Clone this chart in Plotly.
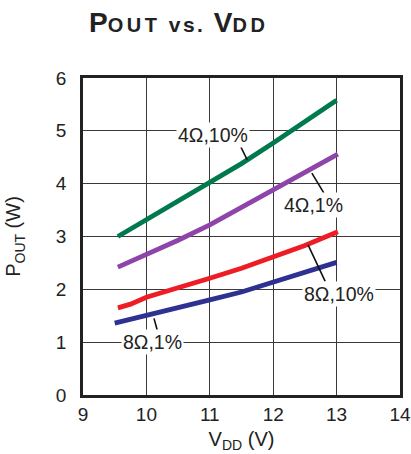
import plotly.graph_objects as go

# Data
x_4r10 = [9.55, 10.0, 10.5, 11.0, 11.5, 12.0, 12.5, 13.0]
y_4r10 = [3.00, 3.32, 3.66, 4.02, 4.38, 4.77, 5.17, 5.58]

x_4r1 = [9.55, 10.0, 10.5, 11.0, 11.5, 12.0, 12.5, 13.02]
y_4r1 = [2.42, 2.66, 2.93, 3.22, 3.55, 3.87, 4.20, 4.56]

x_8r10 = [9.55, 9.75, 10.0, 10.5, 11.0, 11.5, 12.0, 12.5, 13.02]
y_8r10 = [1.65, 1.72, 1.85, 2.02, 2.21, 2.40, 2.62, 2.83, 3.09]

x_8r1 = [9.5, 10.0, 10.5, 11.0, 11.5, 12.0, 12.5, 13.0]
y_8r1 = [1.36, 1.50, 1.65, 1.80, 1.95, 2.13, 2.32, 2.51]

series_names = ["4Ω,10%", "4Ω,1%", "8Ω,10%", "8Ω,1%"]
series_colors = ["#007A4D", "#8E44A8", "#EE1C25", "#2E3192"]

# label positions (data coords) and leader lines
label_x = [11.05, 12.64, 13.03, 10.10]
label_y = [4.93, 3.60, 1.92, 1.01]
leader_x0 = [11.46, 12.61, 12.55, 10.12]
leader_y0 = [4.77, 4.20, 2.84, 1.45]
leader_x1 = [11.59, 12.80, 12.82, 10.17]
leader_y1 = [4.45, 3.82, 2.15, 1.23]

x_ticks = [9, 10, 11, 12, 13, 14]
y_ticks = [0, 1, 2, 3, 4, 5, 6]

FONT = "Liberation Sans, Arial, sans-serif"

fig = go.Figure()
for xs, ys, name, col in zip([x_4r10, x_4r1, x_8r10, x_8r1],
                             [y_4r10, y_4r1, y_8r10, y_8r1],
                             series_names, series_colors):
    fig.add_trace(go.Scatter(x=xs, y=ys, mode="lines", name=name,
                             line=dict(color=col, width=4.8),
                             showlegend=False, hoverinfo="skip"))

for i in range(4):
    fig.add_shape(type="line", xref="x", yref="y",
                  x0=leader_x0[i], y0=leader_y0[i], x1=leader_x1[i], y1=leader_y1[i],
                  line=dict(color="#111111", width=1.6))
    fig.add_annotation(x=label_x[i], y=label_y[i], xref="x", yref="y",
                       text=series_names[i], showarrow=False,
                       font=dict(family=FONT, size=19.5, color="#222222"),
                       bgcolor="white", borderpad=1)

small = "font-size:20px;letter-spacing:3.5px"
mid = "font-size:21px;letter-spacing:2.5px"
title_text = ("<b>P<span style='%s'>OUT</span><span style='%s'> vs. </span>"
              "V<span style='%s'>DD</span></b>") % (small, mid, small)

fig.update_layout(
    width=411, height=454,
    margin=dict(l=83, r=11, t=78, b=59),
    paper_bgcolor="white", plot_bgcolor="white",
    font=dict(family=FONT, color="#222222"),
    title=dict(
        text=title_text,
        font=dict(family=FONT, size=28, color="#222222"),
        x=(89 - 83) / 317, xref="paper", xanchor="left",
        y=1 - 22 / 454, yref="container", yanchor="middle"),
    xaxis=dict(range=[9, 14], tickvals=x_ticks, ticks="", showgrid=True,
               gridcolor="#3a3a3a", gridwidth=1.2, zeroline=False,
               showline=True, mirror=True, linecolor="#222222", linewidth=2.5,
               automargin=False,
               tickfont=dict(family=FONT, size=19, color="#222222"),
               title=dict(text="V<sub>DD</sub> (V)",
                          font=dict(family=FONT, size=20, color="#222222"),
                          standoff=9)),
    yaxis=dict(range=[0, 6], tickvals=y_ticks, ticks="", showgrid=True,
               gridcolor="#3a3a3a", gridwidth=1.2, zeroline=False,
               showline=True, mirror=True, linecolor="#222222", linewidth=2.5,
               automargin=False,
               ticklabelstandoff=10,
               tickfont=dict(family=FONT, size=19, color="#222222"),
               title=dict(text="P<sub>OUT</sub> (W)",
                          font=dict(family=FONT, size=20, color="#222222"),
                          standoff=30)),
)

fig.write_html("out.html",
               config={"displayModeBar": False},
               post_script="document.body.style.margin='0';document.body.style.overflow='hidden';")
